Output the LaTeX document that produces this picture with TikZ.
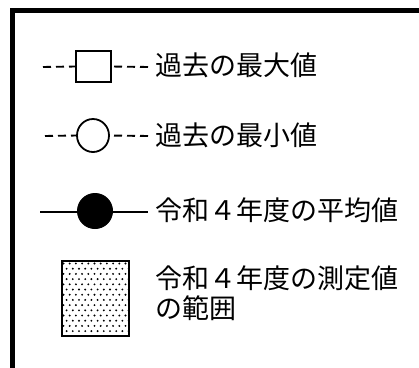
\documentclass[tikz,border=0pt]{standalone}
\usepackage{fontspec}
\usetikzlibrary{shapes.geometric}
\newfontfamily\jp{Noto Sans CJK JP}
\begin{document}
\begin{tikzpicture}[x=1pt,y=-1pt,
  lbl/.style={anchor=west,inner sep=0pt,font=\jp\fontsize{27pt}{30pt}\selectfont,align=left},
  dashln/.style={line width=1.9pt,dash pattern=on 8pt off 5pt},
  solidln/.style={line width=1.9pt},
  mark box/.style={draw,line width=1.8pt,fill=white,minimum width=35pt,minimum height=31pt,inner sep=0pt},
  mark circ/.style={draw,line width=1.8pt,fill=white,ellipse,minimum width=32pt,minimum height=33pt,inner sep=0pt},
  mark disk/.style={draw,line width=1pt,fill=black,circle,minimum size=35pt,inner sep=0pt},
  dotbox/.style={draw,line width=1.8pt,minimum width=67pt,minimum height=75pt,inner sep=0pt}]
\useasboundingbox (0,0) rectangle (419,367);
\clip (0,0) rectangle (419,367);
% frame (only top and left edges visible)
\draw[line width=5pt] (12.5,10.5) rectangle (440,390);
% row 1: past maximum
\coordinate (l1) at (43,67);
\coordinate (r1) at (148,67);
\node[mark box] (sq) at (93.5,66.5) {};
\draw[dashln] (l1) -- (sq.west);
\draw[dashln] (r1) -- (sq.east);
\node[lbl] (t1) at (155,65) {過去の最大値};
% row 2: past minimum
\coordinate (l2) at (45,136);
\coordinate (r2) at (148,136);
\node[mark circ] (oc) at (93,135.5) {};
\draw[dashln] (l2) -- (oc.west);
\draw[dashln] (r2) -- (oc.east);
\node[lbl] (t2) at (155,135) {過去の最小値};
% row 3: average
\coordinate (l3) at (40,212);
\coordinate (r3) at (148,212);
\draw[solidln] (l3) -- (r3);
\node[mark disk] (fc) at (95,211) {};
\node[lbl] (t3) at (155,210) {令和４年度の平均値};
% row 4: range
\node[dotbox] (db) at (95.5,298.5) {};
\begin{scope}
  \clip (db.south west) rectangle (db.north east);
  \foreach \j in {0,...,14} {
    \foreach \i in {0,...,11} {
      \fill[black] ({63.5+6.2*\i+3.1*mod(\j,2)},{263.5+5.2*\j}) circle [radius=1.05pt];
    }
  }
\end{scope}
\node[dotbox] at (db) {};
\node[lbl] (t4) at (155,293) {令和４年度の測定値\\の範囲};
\end{tikzpicture}
\end{document}
